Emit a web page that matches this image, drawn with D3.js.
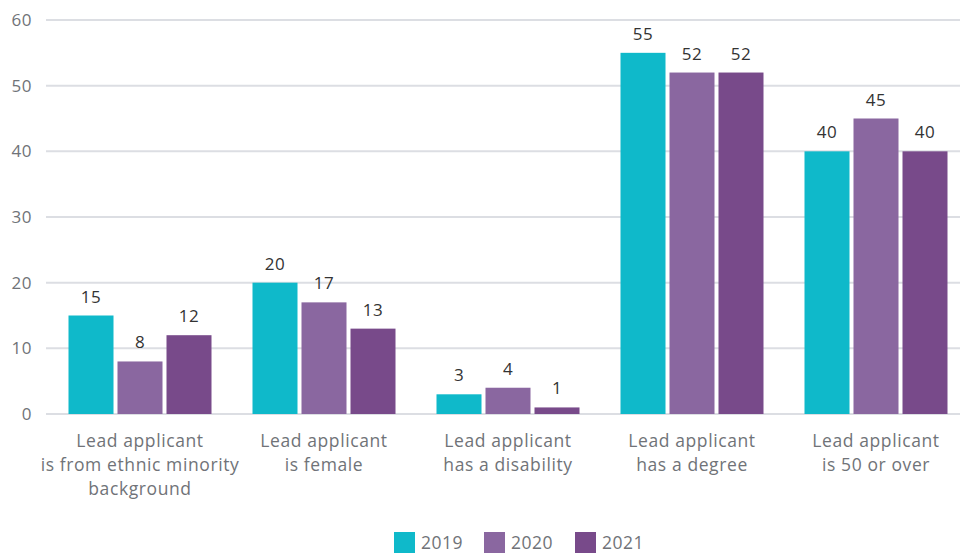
<!DOCTYPE html>
<html><head><meta charset="utf-8">
<script src="https://cdn.jsdelivr.net/npm/d3@7"></script>
<style>
html,body{margin:0;padding:0;background:#fff;}
svg{display:block;font-family:"Open Sans",Lato,sans-serif;}
</style></head>
<body>
<svg id="chart" width="960" height="553"></svg>
<script>
const categories = [
  ["Lead applicant","is from ethnic minority","background"],
  ["Lead applicant","is female"],
  ["Lead applicant","has a disability"],
  ["Lead applicant","has a degree"],
  ["Lead applicant","is 50 or over"]
];
const years = ["2019","2020","2021"];
const values2019 = [15,20,3,55,40];
const values2020 = [8,17,4,52,45];
const values2021 = [12,13,1,52,40];
const yTicks = [0,10,20,30,40,50,60];
const colors = ["#0fb9ca","#8a67a0","#784a8a"];

const series = [values2019, values2020, values2021];
const svg = d3.select("#chart");
const catIdx = categories.map((c,i)=>i);
const FONT = "'Open Sans',Lato,sans-serif";

const x0 = d3.scaleBand().domain(catIdx).range([48,968]).padding(0);
const x1 = d3.scaleBand().domain(years).range([20.5,163.5]).paddingInner(4/49).paddingOuter(0);
const y = d3.scaleLinear().domain([0,60]).range([414,20]);

// grid
const yAxis = d3.axisLeft(y).tickValues(yTicks).tickSize(0).tickPadding(14);
const ga = svg.append("g").attr("transform","translate(46,0)").call(yAxis);
ga.select(".domain").remove();
ga.selectAll("text").attr("font-size",17).attr("fill","#707378").attr("font-family",FONT)
  .attr("font-weight",400).attr("letter-spacing",0.5);
svg.append("g").selectAll("line").data(yTicks).join("line")
  .attr("x1",46).attr("x2",960)
  .attr("y1",d=>y(d)).attr("y2",d=>y(d))
  .attr("stroke","#dcdee3").attr("stroke-width",2);

// bars
const groups = svg.append("g").selectAll("g").data(catIdx).join("g")
  .attr("transform",d=>`translate(${x0(d)},0)`);
groups.selectAll("rect").data(i=>years.map((yr,k)=>({yr,k,v:series[k][i]}))).join("rect")
  .attr("x",d=>x1(d.yr)).attr("width",x1.bandwidth())
  .attr("y",d=>y(d.v)).attr("height",d=>y(0)-y(d.v))
  .attr("fill",d=>colors[d.k]);
groups.selectAll("text.val").data(i=>years.map((yr,k)=>({yr,k,v:series[k][i]}))).join("text")
  .attr("class","val")
  .attr("x",d=>x1(d.yr)+x1.bandwidth()/2).attr("y",d=>y(d.v)-13)
  .attr("text-anchor","middle").attr("font-size",17).attr("font-weight",400)
  .attr("letter-spacing",0.5).attr("fill","#333")
  .text(d=>d.v);

// x labels
const xl = svg.append("g").selectAll("text").data(catIdx).join("text")
  .attr("x",d=>x0(d)+x0.bandwidth()/2).attr("y",447)
  .attr("text-anchor","middle").attr("font-size",17.5).attr("font-weight",400)
  .attr("letter-spacing",0.6).attr("fill","#707378");
xl.selectAll("tspan").data(d=>categories[d]).join("tspan")
  .attr("x",function(){return this.parentNode.getAttribute("x");})
  .attr("dy",(d,i)=>i===0?0:24).text(d=>d);

// legend
const legX = [394,484,575];
const leg = svg.append("g").selectAll("g").data(years).join("g")
  .attr("transform",(d,i)=>`translate(${legX[i]},532)`);
leg.append("rect").attr("width",21).attr("height",21).attr("fill",(d,i)=>colors[i]);
leg.append("text").attr("x",27).attr("y",17).attr("font-size",17.5).attr("font-weight",400)
  .attr("letter-spacing",0.5).attr("fill","#707378").text(d=>d);
</script>
</body></html>
